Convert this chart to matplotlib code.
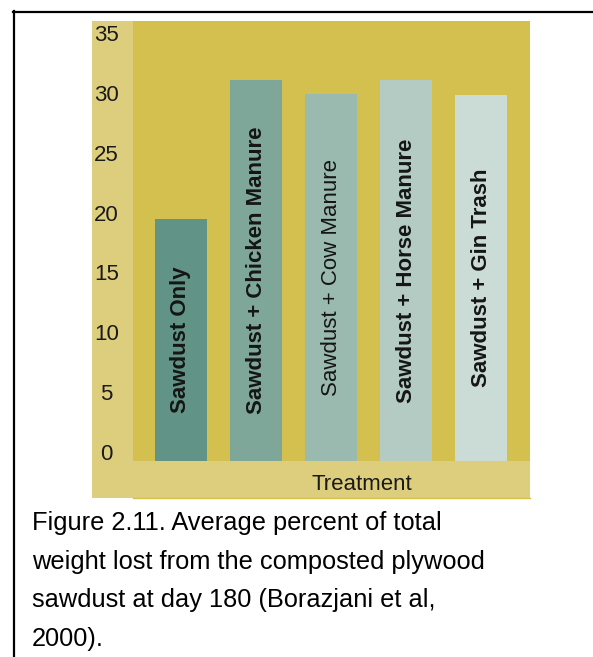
import matplotlib
matplotlib.use("Agg")
import matplotlib.pyplot as plt
from matplotlib.patches import Rectangle
from matplotlib.lines import Line2D
from matplotlib.transforms import ScaledTranslation

plt.rcParams['font.family'] = ['Liberation Sans', 'DejaVu Sans']

# Data
treatments = ["Sawdust Only", "Sawdust + Chicken Manure", "Sawdust + Cow Manure",
              "Sawdust + Horse Manure", "Sawdust + Gin Trash"]
weight_lost = [20.2, 31.8, 30.7, 31.8, 30.6]
label_weights = ["bold", "bold", "normal", "bold", "bold"]
bar_colors = ["#619486", "#7EA79A", "#9BBAAF", "#B3CBC3", "#CBDCD7"]
yticks = [0, 5, 10, 15, 20, 25, 30, 35]
caption_lines = ["Figure 2.11. Average percent of total",
                 "weight lost from the composted plywood",
                 "sawdust at day 180 (Borazjani et al,",
                 "2000)."]

W, H = 593, 657
DPI = 100
fig = plt.figure(figsize=(W / DPI, H / DPI), dpi=DPI)
fig.patch.set_facecolor("white")

def fx(px):
    return px / W

def fy(py):
    return 1 - py / H

# Outer light panel behind the chart
panel = Rectangle((fx(92), fy(498)), fx(530) - fx(92), fy(21) - fy(498),
                  transform=fig.transFigure, facecolor="#DDCE7E",
                  edgecolor="none", zorder=0)
fig.add_artist(panel)
fig.add_artist(Line2D([fx(133), fx(530)], [fy(498), fy(498)],
                      transform=fig.transFigure, color="#D4C04F", lw=1.0, zorder=1))

# Frame lines
fig.add_artist(Line2D([fx(14), fx(14)], [fy(11), 0], transform=fig.transFigure,
                      color="black", lw=1.6, zorder=5))
fig.add_artist(Line2D([fx(13), 1], [fy(11.5), fy(11.5)], transform=fig.transFigure,
                      color="black", lw=1.6, zorder=5))

ax = fig.add_axes([fx(133), fy(461), fx(530) - fx(133), fy(21) - fy(461)])
ax.set_facecolor("#D4C04F")
ax.set_zorder(2)

x = list(range(len(treatments)))
bars = ax.bar(x, weight_lost, width=0.69, color=bar_colors, edgecolor="none")
for xi, val, name, wt in zip(x, weight_lost, treatments, label_weights):
    ax.text(xi, val / 2, name, rotation=90, ha="center", va="center",
            fontsize=16, fontweight=wt, color="#151515")

ax.set_xlim(-0.639, 4.647)
ax.set_ylim(0, 36.76)
ax.set_xticks([])
ax.set_yticks(yticks)
ax.set_yticklabels([str(t) for t in yticks])
ax.tick_params(axis="y", length=0, pad=19.2, labelsize=16, labelcolor="#1a1a1a")
offset = ScaledTranslation(0, 9 / DPI, fig.dpi_scale_trans)
for lbl in ax.get_yticklabels():
    lbl.set_ha("center")
    lbl.set_transform(lbl.get_transform() + offset)
for sp in ax.spines.values():
    sp.set_visible(False)

ax.set_xlabel("Treatment", fontsize=16, color="#1a1a1a", va="center")
ax.xaxis.set_label_coords((362 - 133) / 397, -(485 - 461) / 440)

# Caption below the chart
for i, line in enumerate(caption_lines):
    fig.text(fx(32), fy(530 + 38.6 * i), line, ha="left", va="baseline",
             fontsize=18.3, color="black")

fig.savefig("out.png", dpi=DPI, facecolor="white")
